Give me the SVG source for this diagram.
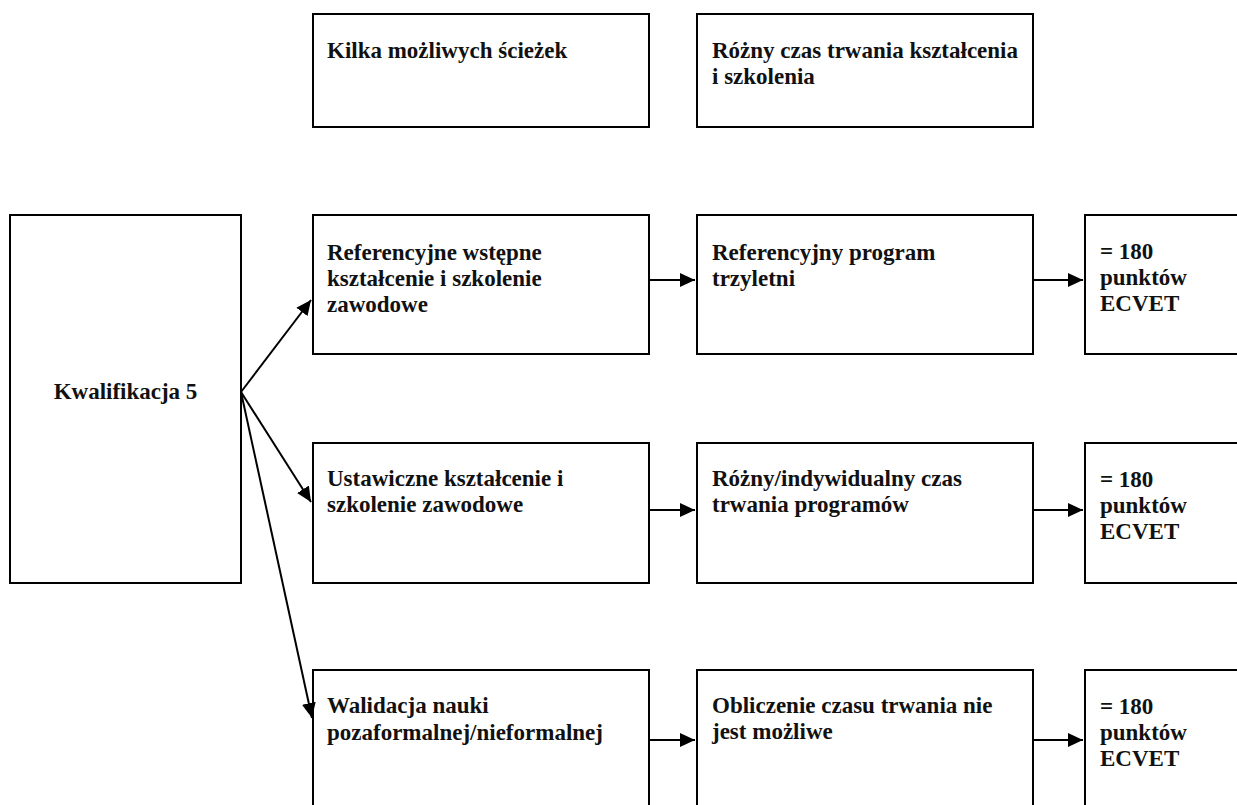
<svg xmlns="http://www.w3.org/2000/svg" width="1237" height="805" viewBox="0 0 1237 805">
<style>
.box{fill:#fff;stroke:#000;stroke-width:2}
.t{font-family:"Liberation Serif","Times New Roman",serif;font-weight:bold;font-size:23px;fill:#111}
.c{stroke:#000;stroke-width:2;fill:none}
</style>
<defs>
<marker id="ah" markerUnits="userSpaceOnUse" markerWidth="16" markerHeight="14" refX="15" refY="7" orient="auto">
<path d="M0,0 L15,7 L0,14 z" fill="#000"/>
</marker>
</defs>
<rect width="1237" height="805" fill="#fff"/>
<g id="top1"><rect class="box" x="313" y="14" width="336" height="113"/><text class="t" x="327" y="58">Kilka możliwych ścieżek</text></g>
<g id="top2"><rect class="box" x="697" y="14" width="336" height="113"/><text class="t" x="712" y="58">Różny czas trwania kształcenia</text><text class="t" x="712" y="84">i szkolenia</text></g>
<g id="kwal"><rect class="box" x="10" y="215" width="231" height="368"/><text class="t" x="125.5" y="399" text-anchor="middle">Kwalifikacja 5</text></g>
<g id="r1a"><rect class="box" x="313" y="215" width="336" height="139"/><text class="t" x="327" y="260">Referencyjne wstępne</text><text class="t" x="327" y="286">kształcenie i szkolenie</text><text class="t" x="327" y="312">zawodowe</text></g>
<g id="r1b"><rect class="box" x="697" y="215" width="336" height="139"/><text class="t" x="712" y="260">Referencyjny program</text><text class="t" x="712" y="286">trzyletni</text></g>
<g id="r1c"><rect class="box" x="1085" y="215" width="170" height="139"/><text class="t" x="1100" y="259">= 180</text><text class="t" x="1100" y="285">punktów</text><text class="t" x="1100" y="311">ECVET</text></g>
<g id="r2a"><rect class="box" x="313" y="443" width="336" height="140"/><text class="t" x="327" y="486">Ustawiczne kształcenie i</text><text class="t" x="327" y="512">szkolenie zawodowe</text></g>
<g id="r2b"><rect class="box" x="697" y="443" width="336" height="140"/><text class="t" x="712" y="486">Różny/indywidualny czas</text><text class="t" x="712" y="512">trwania programów</text></g>
<g id="r2c"><rect class="box" x="1085" y="443" width="170" height="140"/><text class="t" x="1100" y="487">= 180</text><text class="t" x="1100" y="513">punktów</text><text class="t" x="1100" y="539">ECVET</text></g>
<g id="r3a"><rect class="box" x="313" y="670" width="336" height="150"/><text class="t" x="327" y="713">Walidacja nauki</text><text class="t" x="327" y="740">pozaformalnej/nieformalnej</text></g>
<g id="r3b"><rect class="box" x="697" y="670" width="336" height="150"/><text class="t" x="712" y="713">Obliczenie czasu trwania nie</text><text class="t" x="712" y="739">jest możliwe</text></g>
<g id="r3c"><rect class="box" x="1085" y="670" width="170" height="150"/><text class="t" x="1100" y="714">= 180</text><text class="t" x="1100" y="740">punktów</text><text class="t" x="1100" y="766">ECVET</text></g>
<g id="connectors">
<line class="c" x1="241" y1="392" x2="311" y2="300" marker-end="url(#ah)"/>
<line class="c" x1="241" y1="392" x2="311" y2="502" marker-end="url(#ah)"/>
<line class="c" x1="241" y1="392" x2="312" y2="718" marker-end="url(#ah)"/>
<line class="c" x1="648" y1="280" x2="695" y2="280" marker-end="url(#ah)"/>
<line class="c" x1="1032" y1="280" x2="1083" y2="280" marker-end="url(#ah)"/>
<line class="c" x1="648" y1="510" x2="695" y2="510" marker-end="url(#ah)"/>
<line class="c" x1="1032" y1="510" x2="1083" y2="510" marker-end="url(#ah)"/>
<line class="c" x1="648" y1="740" x2="695" y2="740" marker-end="url(#ah)"/>
<line class="c" x1="1032" y1="740" x2="1083" y2="740" marker-end="url(#ah)"/>
</g>
</svg>
